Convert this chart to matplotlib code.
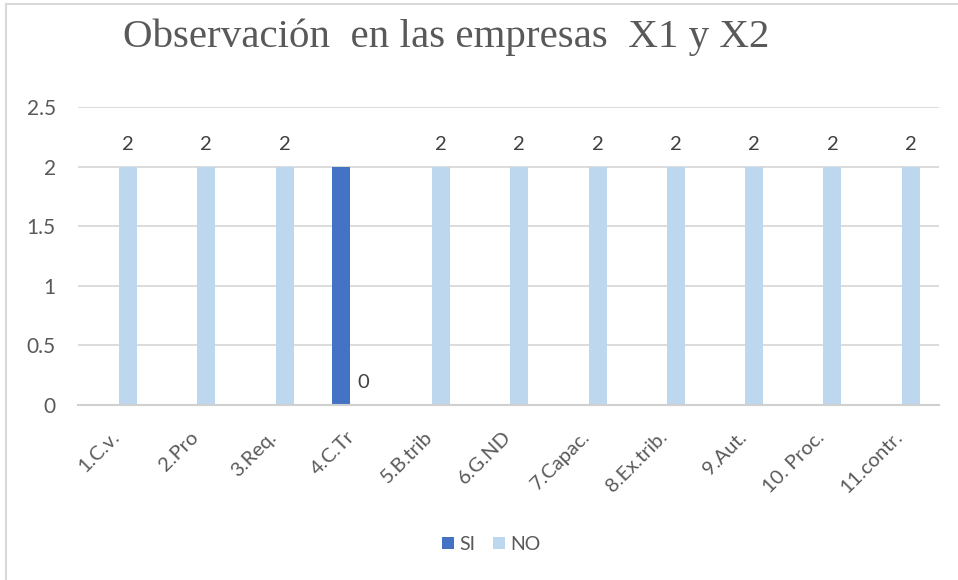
import matplotlib
matplotlib.use("Agg")
import matplotlib.pyplot as plt
import numpy as np

categories = ["1.C.v.", "2.Pro", "3.Req.", "4.C.Tr", "5.B.trib", "6.G.ND",
              "7.Capac.", "8.Ex.trib.", "9.Aut.", "10. Proc.", "11.contr."]
si_values = [0, 0, 0, 2, 0, 0, 0, 0, 0, 0, 0]
no_values = [2, 2, 2, 0, 2, 2, 2, 2, 2, 2, 2]
yticks = [0, 0.5, 1, 1.5, 2, 2.5]
title = "Observación  en las empresas  X1 y X2"

FONT = "Lato"
fig = plt.figure(figsize=(9.58, 5.8), dpi=100)
ax = fig.add_axes([0.0814, 0.3017, 0.8986, 0.5138])

x = np.arange(len(categories))
w = 0.23
off = 0.14
ax.bar(x - off, si_values, w, color="#4472C4", label="SI", zorder=3)
ax.bar(x + off, no_values, w, color="#BDD7EE", label="NO", zorder=3)

for xi, v in zip(x, no_values):
    ax.annotate(f"{v:g}", (xi + off, v), xytext=(0, 10), textcoords="offset points",
                ha="center", va="bottom", fontsize=14.5, color="#404040", family=FONT)

ax.set_xlim(-0.5, len(categories) - 0.5)
ax.set_ylim(0, 2.5)
ax.set_yticks(yticks)
ax.set_yticklabels([f"{t:g}" for t in yticks], fontsize=15, color="#595959", family=FONT)
ax.set_xticks(x)
ax.set_xticklabels(categories, rotation=45, ha="right", va="center", rotation_mode="anchor",
                   fontsize=14.5, color="#595959", family=FONT)
ax.tick_params(axis="both", length=0)
ax.tick_params(axis="y", pad=16)
ax.tick_params(axis="x", pad=21)
ax.grid(axis="y", color="#D9D9D9", linewidth=1.3, zorder=0)
for s in ["top", "right", "left"]:
    ax.spines[s].set_visible(False)
ax.spines["bottom"].set_color("#D0D0D0")
ax.spines["bottom"].set_linewidth(1.5)
ax.spines["bottom"].set_zorder(4)

fig.text(0.466, 0.935, title, ha="center", va="center", fontsize=29.5,
         family="Liberation Serif", color="#595959")

leg = fig.legend(loc="center", bbox_to_anchor=(0.513, 0.062), ncol=2, frameon=False,
                 prop={"family": FONT, "size": 14}, handlelength=0.6, handleheight=0.6,
                 columnspacing=0.9, handletextpad=0.3)
for t in leg.get_texts():
    t.set_color("#595959")

# outer chart border (left and top visible)
fig.add_artist(plt.Line2D([0.0063, 0.0063], [0, 0.993], transform=fig.transFigure,
                          color="#D9D9D9", linewidth=1.5))
fig.add_artist(plt.Line2D([0.0063, 1.0], [0.993, 0.993], transform=fig.transFigure,
                          color="#D9D9D9", linewidth=1.5))

fig.savefig("out.png", dpi=100)
